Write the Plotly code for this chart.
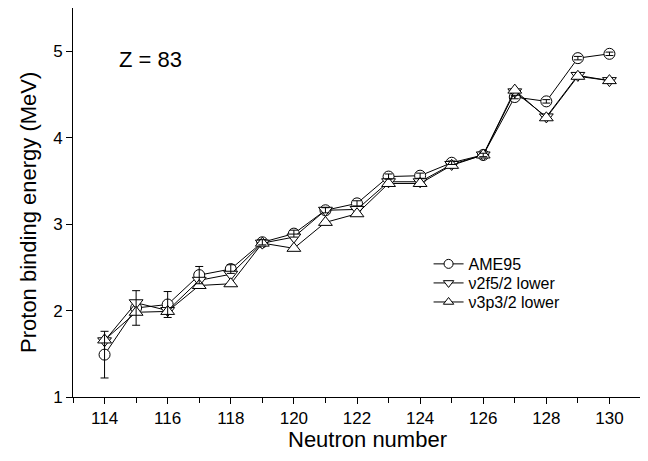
import plotly.graph_objects as go

neutrons = [114, 115, 116, 117, 118, 119, 120, 121, 122, 123, 124, 125, 126, 127, 128, 129, 130]
ame95 = [1.49, 2.03, 2.07, 2.41, 2.48, 2.79, 2.89, 3.16, 3.24, 3.55, 3.56, 3.71, 3.80, 4.47, 4.42, 4.92, 4.97]
ame95_err = [0.27, 0.20, 0.15, 0.10, 0.05, 0.03, 0.04, 0.03, 0.03, 0.03, 0.03, 0.02, 0.02, 0.02, 0.02, 0.02, 0.02]
nu2f52 = [1.65, 2.09, 2.00, 2.35, 2.42, 2.78, 2.85, 3.16, 3.17, 3.49, 3.49, 3.69, 3.80, 4.53, 4.24, 4.72, 4.66]
nu3p32 = [1.66, 1.98, 1.99, 2.29, 2.31, 2.78, 2.72, 3.02, 3.12, 3.47, 3.47, 3.68, 3.80, 4.55, 4.23, 4.71, 4.66]

names = ["AME95", "\u03bd2f5/2 lower", "\u03bd3p3/2 lower"]
symbols = ["circle", "triangle-down", "triangle-up"]
series = [ame95, nu2f52, nu3p32]
legend_ids = ["legend", "legend2", "legend3"]
font = "Liberation Sans, Arial, sans-serif"

fig = go.Figure()
for nm, sym, ys in zip(names, symbols, series):
    fig.add_trace(go.Scatter(x=neutrons, y=ys, name=nm, mode="lines+markers", showlegend=False,
                             line=dict(color="black", width=1),
                             marker=dict(symbol=sym, size=11 if sym == "circle" else 12, color="white",
                                         line=dict(color="black", width=1))))
# error bars drawn on top of markers
fig.add_trace(go.Scatter(x=neutrons, y=ame95, mode="markers", showlegend=False,
                         marker=dict(size=1, color="rgba(0,0,0,0)"),
                         error_y=dict(type="data", array=ame95_err, visible=True,
                                      color="black", thickness=1, width=4),
                         hoverinfo="skip"))
# legend entries with smaller symbols, one legend per row for tight spacing
for nm, sym, lg in zip(names, symbols, legend_ids):
    fig.add_trace(go.Scatter(x=[None], y=[None], name=nm, mode="lines+markers", legend=lg,
                             line=dict(color="black", width=1),
                             marker=dict(symbol=sym, size=9, color="white",
                                         line=dict(color="black", width=1))))

fig.add_annotation(x=115.46, y=4.90, text="Z = 83", showarrow=False,
                   font=dict(family=font, size=22, color="black"))
fig.add_annotation(xref="paper", yref="paper", x=0.519, y=-0.1105, text="Neutron number",
                   showarrow=False, xanchor="center", yanchor="middle",
                   font=dict(family=font, size=22, color="black"))
fig.add_annotation(xref="paper", yref="paper", x=-0.0775, y=0.4756,
                   text="Proton binding energy (MeV)", textangle=-90,
                   showarrow=False, xanchor="center", yanchor="middle",
                   font=dict(family=font, size=22, color="black"))

legend_style = dict(xanchor="left", yanchor="middle", bgcolor="rgba(0,0,0,0)",
                    font=dict(family=font, size=16), itemwidth=30)

# page body has an 8px margin, so the figure is sized to fit the remaining window
fig.update_layout(
    width=640, height=453,
    margin=dict(l=65, r=7, t=0, b=64, autoexpand=False),
    paper_bgcolor="white", plot_bgcolor="white",
    font=dict(family=font, size=14, color="black"),
    legend=dict(x=0.626, y=0.342, **legend_style),
    legend2=dict(x=0.626, y=0.293, **legend_style),
    legend3=dict(x=0.626, y=0.244, **legend_style),
    showlegend=True,
)
fig.update_xaxes(range=[113, 131], dtick=2, tick0=114, ticks="outside", ticklen=6,
                 tickcolor="black", showline=True, linecolor="black", linewidth=1,
                 mirror=True, showgrid=False, zeroline=False, automargin=False,
                 minor=dict(dtick=1, tick0=113, ticks="outside", ticklen=5, tickcolor="black"),
                 tickfont=dict(family=font, size=17))
fig.update_yaxes(range=[1, 5.5], dtick=1, tick0=1, ticks="outside", ticklen=6,
                 tickcolor="black", showline=True, linecolor="black", linewidth=1,
                 mirror=True, showgrid=False, zeroline=False, automargin=False,
                 tickfont=dict(family=font, size=17))

fig.write_html("out.html")
